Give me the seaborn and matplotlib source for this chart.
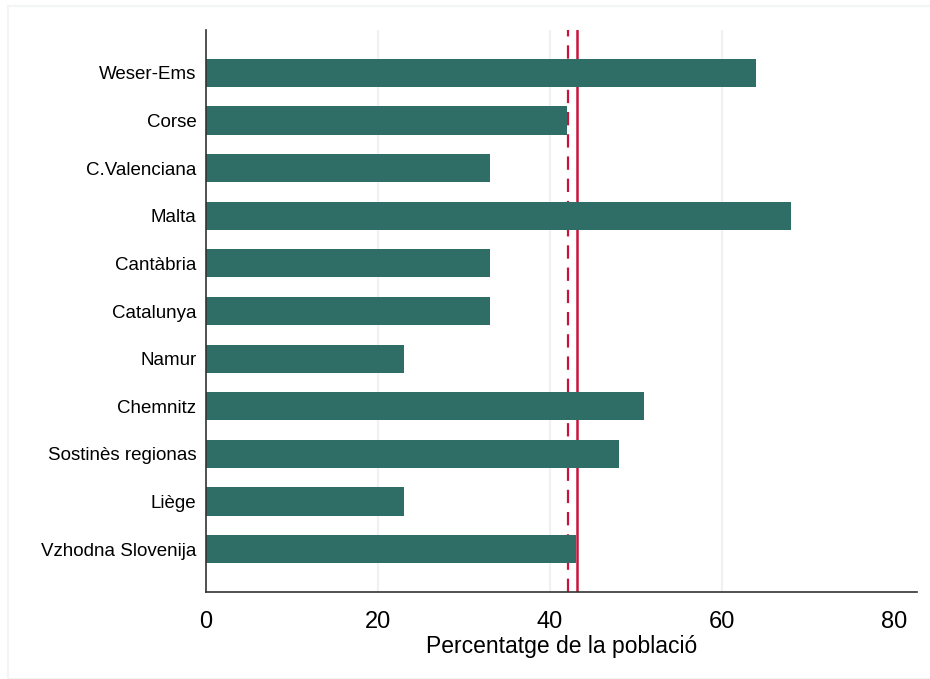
import pandas as pd
import matplotlib.pyplot as plt
import matplotlib.patches as mpatches
import seaborn as sns

regions = ['Weser-Ems', 'Corse', 'C.Valenciana', 'Malta', 'Cantàbria', 'Catalunya',
           'Namur', 'Chemnitz', 'Sostinès regionas', 'Liège', 'Vzhodna Slovenija']
pct = [64, 42, 33, 68, 33, 33, 23, 51, 48, 23, 43]
ref_dashed = 42.1
ref_solid = 43.1
xticks = [0, 20, 40, 60, 80]

df = pd.DataFrame({'region': regions, 'pct': pct})

sns.set_style('white')
plt.rcParams['font.family'] = ['Liberation Sans', 'DejaVu Sans']
plt.rcParams['text.color'] = 'black'
plt.rcParams['axes.labelcolor'] = 'black'
plt.rcParams['xtick.color'] = 'black'
plt.rcParams['ytick.color'] = 'black'

fig = plt.figure(figsize=(9.3, 6.79), dpi=100)
ax = fig.add_axes([206/930, 87/679, (917-206)/930, (592-30)/679])

# light frame round the figure
fig.patches.append(mpatches.Rectangle((8/930, 0), 1, 1 - 6/679, transform=fig.transFigure,
                                      fill=False, edgecolor='#f2f5f5', linewidth=1.5, zorder=0))

for x in [20, 40, 60]:
    ax.axvline(x, color='#eef2f5', linewidth=1.6, zorder=0)

ax.axvline(ref_dashed, color='#c8143c', linewidth=1.6, linestyle=(0, (6, 4)), zorder=1)
ax.axvline(ref_solid, color='#c8143c', linewidth=1.8, zorder=1)

sns.barplot(data=df, x='pct', y='region', orient='h', color='#2e6e66', saturation=1,
            width=0.59, linewidth=0, ax=ax, zorder=2)

ax.set_xlim(0, 82.7)
ax.set_ylim(10.9, -0.9)
ax.set_xticks(xticks)
ax.set_xticklabels([str(t) for t in xticks], fontsize=17)
ax.tick_params(axis='x', length=7, width=1, color='#333333', pad=7)
ax.tick_params(axis='y', length=0, labelsize=13.5, pad=7)
ax.set_xlabel('Percentatge de la població', fontsize=16.5, labelpad=1)
ax.set_ylabel('')

for s in ['top', 'right']:
    ax.spines[s].set_visible(False)
for s in ['left', 'bottom']:
    ax.spines[s].set_color('#333333')
    ax.spines[s].set_linewidth(1.2)

fig.savefig('out.png', dpi=100)
